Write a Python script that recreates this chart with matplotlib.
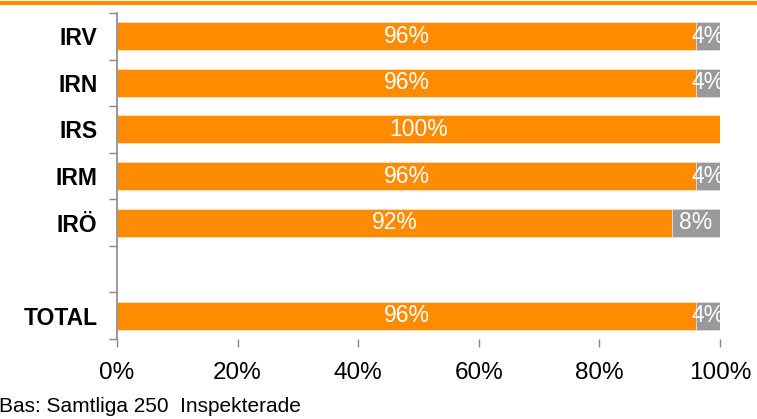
import matplotlib
matplotlib.use("Agg")
import matplotlib.pyplot as plt
import numpy as np

plt.rcParams['font.family'] = ['Liberation Sans', 'DejaVu Sans']

categories = ["IRV", "IRN", "IRS", "IRM", "IRÖ", "", "TOTAL"]
yes_vals = [96, 96, 100, 96, 92, None, 96]
no_vals = [4, 4, 0, 4, 8, None, 4]
xtick_labels = ["0%", "20%", "40%", "60%", "80%", "100%"]
footer = "Bas: Samtliga 250  Inspekterade"

ORANGE = "#FF8C00"
GRAY = "#999999"

fig = plt.figure(figsize=(7.57, 4.19), dpi=100)
ax = fig.add_axes([117/757, 1-339/419, (720-117)/757, (339-13)/419])

n = len(categories)
ypos = np.arange(n)
for i, (a, b) in enumerate(zip(yes_vals, no_vals)):
    if a is None:
        continue
    ax.barh(i, a, height=0.6, color=ORANGE, edgecolor="#FFE0C0", linewidth=0.6)
    ax.text(a/2, i, f"{a}%", ha="center", va="center", color="white", fontsize=16.5)
    if b:
        ax.barh(i, b, left=a, height=0.6, color=GRAY, edgecolor="#DDDDDD", linewidth=0.6)
        ax.text(a + b/2, i, f"{b}%", ha="center", va="center", color="white", fontsize=16.5)

ax.set_xlim(0, 100)
ax.set_ylim(n - 0.5, -0.5)
ax.set_xticks(np.arange(0, 101, 20))
ax.set_xticklabels(xtick_labels, fontsize=17.5)
ax.set_yticks(ypos)
ax.set_yticklabels(categories, fontsize=16.5, fontweight="bold")
ax.set_yticks(np.arange(-0.5, n, 1), minor=True)
ax.tick_params(axis="y", which="major", length=0, pad=14)
ax.tick_params(axis="y", which="minor", length=5.5, color="#888888", width=1)
ax.tick_params(axis="x", which="major", length=5.5, color="#888888", width=1, pad=11)

for s in ["top", "right", "bottom"]:
    ax.spines[s].set_visible(False)
ax.spines["left"].set_color("#888888")
ax.spines["left"].set_linewidth(1.2)

# top orange rule
fig.add_artist(plt.Line2D([0, 1], [1-3/419, 1-3/419], color=ORANGE, linewidth=3, transform=fig.transFigure))

fig.text(-1/757, 1-406/419, footer, fontsize=15, ha="left", va="center")

fig.savefig("out.png", dpi=100)
